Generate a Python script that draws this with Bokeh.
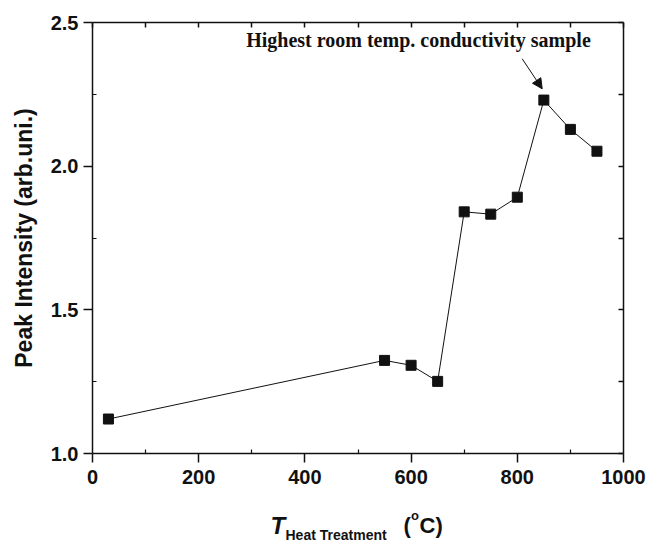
import math
from bokeh.plotting import figure
from bokeh.models import (Range1d, LinearAxis, FixedTicker, Label, Arrow, NormalHead,
                          NumeralTickFormatter, CustomJSTickFormatter)
from bokeh.embed import file_html
from bokeh.resources import INLINE

# ---- data ----
temps = [30, 550, 600, 650, 700, 750, 800, 850, 900, 950]
intensity = [1.12, 1.324, 1.307, 1.251, 1.841, 1.833, 1.892, 2.230, 2.128, 2.052]
x_ticks = [0, 200, 400, 600, 800, 1000]
y_ticks = [1.0, 1.5, 2.0, 2.5]
annotation_text = "Highest room temp. conductivity sample"
y_label = "Peak Intensity (arb.uni.)"
x_label_main = "T"
x_label_sub = "Heat Treatment"
x_label_unit_open = "("
x_label_unit_sup = "o"
x_label_unit_close = "C)"

SANS = "Liberation Sans"
SERIF = "Liberation Serif"
INK = "#111111"

# axes box in pixels: x 0..1000 -> 92..623, y 1.0..2.5 -> 453..22
X_L, X_R, Y_TOP, Y_AX = 92, 623, 22, 453
PX_PER_X = (X_R - X_L) / 1000
PX_PER_Y = (Y_AX - Y_TOP) / 1.5

def px2x(px):
    return (px - X_L) / PX_PER_X

def py2y(py):
    return 1.0 - (py - Y_AX) / PX_PER_Y

p = figure(width=649, height=542, output_backend="svg", toolbar_location=None,
           x_range=Range1d(px2x(0), px2x(649)), y_range=Range1d(py2y(542), py2y(0)),
           min_border_left=0, min_border_right=0, min_border_top=0, min_border_bottom=0,
           x_axis_location=None, y_axis_location=None)
p.outline_line_color = None
p.xgrid.visible = False
p.ygrid.visible = False
p.background_fill_color = "white"
p.border_fill_color = "white"

blank = CustomJSTickFormatter(code="return ''")

def style_axis(ax, ticks, minor, labels=True):
    ax.ticker = FixedTicker(ticks=ticks, minor_ticks=minor)
    ax.axis_line_color = INK
    ax.axis_line_width = 1.5
    ax.major_tick_line_color = INK
    ax.major_tick_line_width = 1.5
    ax.minor_tick_line_color = INK
    ax.minor_tick_line_width = 1.2
    if labels:
        ax.major_tick_out = 9
        ax.major_tick_in = 0
        ax.minor_tick_out = 0
        ax.minor_tick_in = 4
        ax.major_label_text_font = SANS
        ax.major_label_text_font_style = "bold"
        ax.major_label_text_font_size = "20px"
        ax.major_label_text_color = INK
    else:
        ax.major_tick_out = 0
        ax.major_tick_in = 5
        ax.minor_tick_out = 0
        ax.minor_tick_in = 0
        ax.formatter = blank

x_minor = [100, 300, 500, 700, 900]
y_minor = [1.25, 1.75, 2.25]

xb = LinearAxis(fixed_location=1.0, bounds=(0, 1000))
style_axis(xb, x_ticks, x_minor)
xb.major_label_standoff = 7
p.add_layout(xb, "below")

yl = LinearAxis(fixed_location=0, bounds=(1.0, 2.5))
style_axis(yl, y_ticks, y_minor)
yl.formatter = NumeralTickFormatter(format="0.0")
yl.major_label_standoff = 5
p.add_layout(yl, "left")

xt = LinearAxis(fixed_location=2.5, bounds=(0, 1000))
style_axis(xt, list(range(0, 1001, 100)), [], labels=False)
p.add_layout(xt, "above")

yr = LinearAxis(fixed_location=1000, bounds=(1.0, 2.5))
style_axis(yr, [1.0, 1.25, 1.5, 1.75, 2.0, 2.25, 2.5], [], labels=False)
p.add_layout(yr, "right")

# data line + markers
p.line(temps, intensity, line_color=INK, line_width=1)
p.scatter(temps, intensity, marker="square", size=10, fill_color=INK, line_color=INK)

# Bokeh's alphabetic baseline sits ~0.3 em low; compensate
def lift(fs):
    return 0.3 * fs

# annotation text and arrow
p.add_layout(Label(x=px2x(418), y=py2y(45 - lift(20)), text=annotation_text, text_align="center",
                   text_baseline="alphabetic", text_font=SERIF, text_font_style="bold",
                   text_font_size="20px", text_color=INK))
p.add_layout(Arrow(x_start=px2x(521.7), y_start=py2y(58.3), x_end=px2x(541.7), y_end=py2y(88.3),
                   line_color=INK, line_width=1,
                   end=NormalHead(size=10, fill_color=INK, line_color=INK)))

# y-axis title
p.add_layout(Label(x=px2x(23), y=py2y(237.5), text=y_label, angle=math.pi / 2,
                   text_align="center", text_baseline="middle", text_font=SANS,
                   text_font_style="bold", text_font_size="23px", text_color=INK))

# x-axis title (T with subscript, degree as superscript o)
pieces = [
    (x_label_main, 270, 532, 24, "bold italic"),
    (x_label_sub, 285, 539, 14, "bold"),
    (x_label_unit_open, 403, 532, 22, "bold"),
    (x_label_unit_sup, 410.5, 518.5, 13, "bold"),
    (x_label_unit_close, 419, 532, 22, "bold"),
]
for txt, px, py, fs, st in pieces:
    p.add_layout(Label(x=px2x(px), y=py2y(py - lift(fs)), text=txt, text_align="left",
                       text_baseline="alphabetic", text_font=SANS, text_font_style=st,
                       text_font_size=f"{fs}px", text_color=INK))

open("out.html", "w").write(file_html(p, INLINE))
